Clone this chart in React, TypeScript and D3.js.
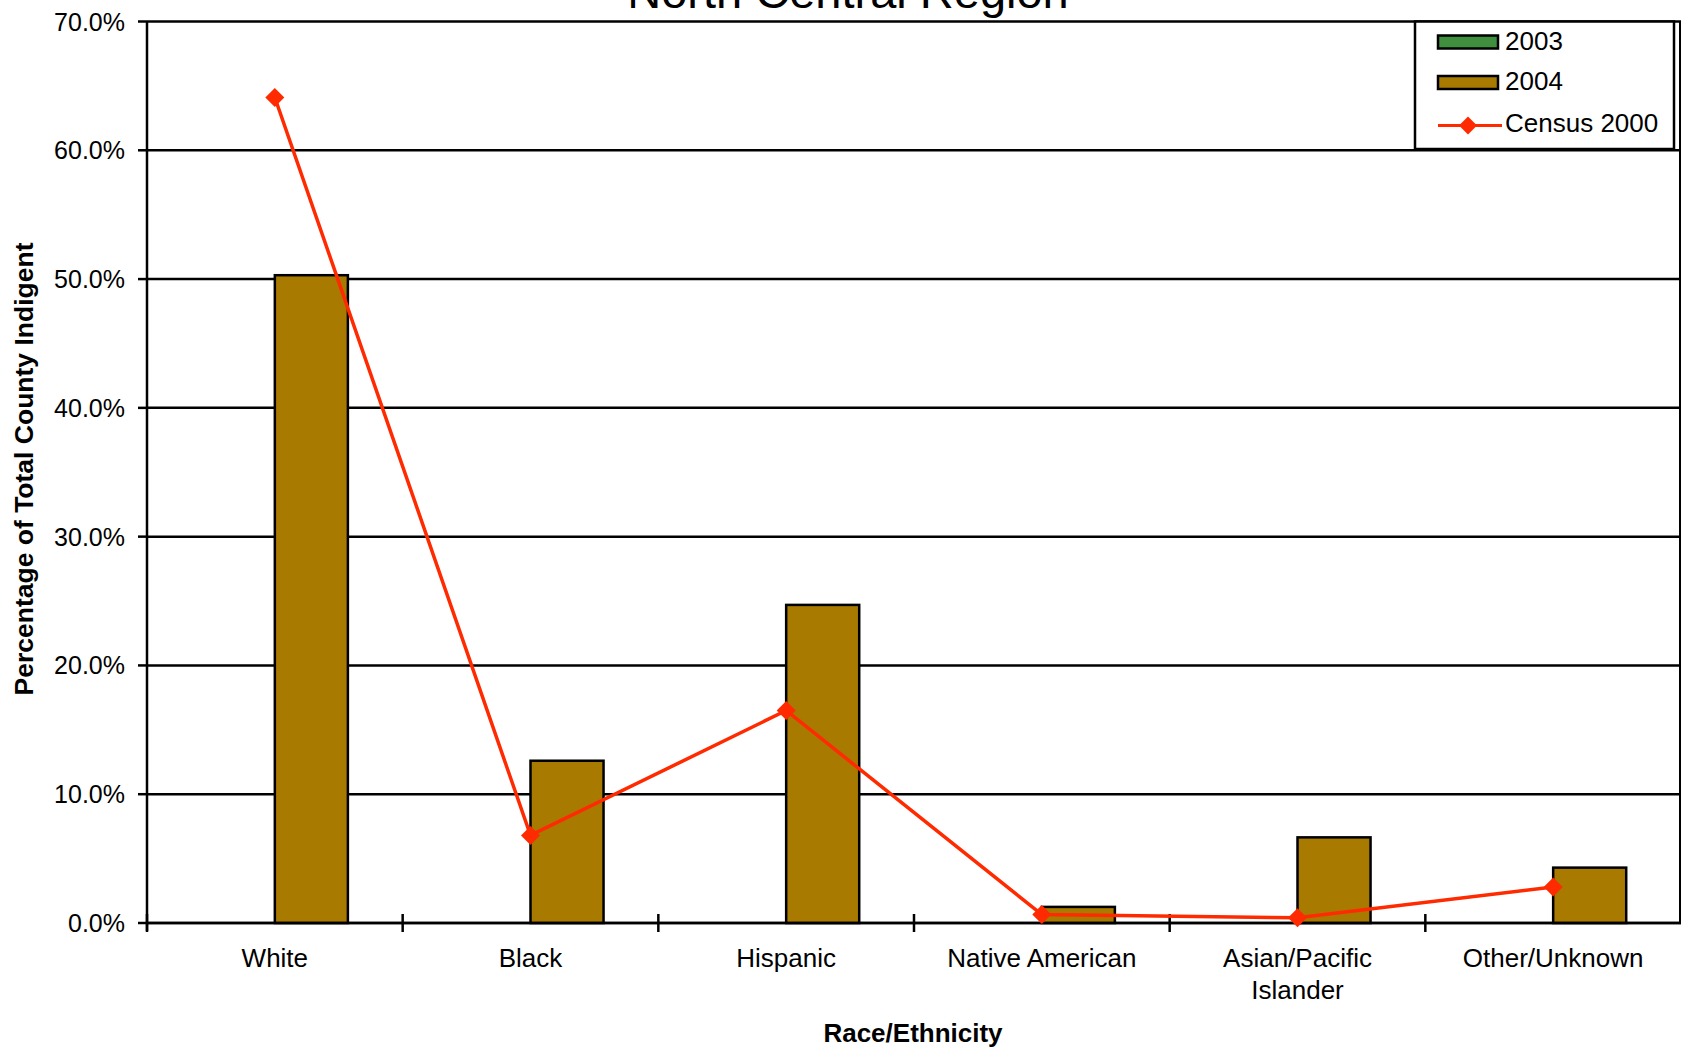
import React from "react";
import * as d3 from "d3";

const categories = ["White", "Black", "Hispanic", "Native American", "Asian/Pacific Islander", "Other/Unknown"];
const categoryLines = [["White"], ["Black"], ["Hispanic"], ["Native American"], ["Asian/Pacific", "Islander"], ["Other/Unknown"]];
const series2003: (number | null)[] = [null, null, null, null, null, null];
const series2004 = [0.503, 0.126, 0.247, 0.0125, 0.0665, 0.043];
const census2000 = [0.641, 0.068, 0.165, 0.0066, 0.004, 0.028];
const yTicks = [0, 0.1, 0.2, 0.3, 0.4, 0.5, 0.6, 0.7];
const legendItems = ["2003", "2004", "Census 2000"];

const W = 1681;
const H = 1049;
const left = 147;
const right = 1681;
const top = 21.5;
const bottom = 923;
const FONT = "'Liberation Sans', Arial, sans-serif";
const C2003 = "#3F8F3F";
const C2004 = "#A87A00";
const CRED = "#FF2A00";

export default function App() {
  const x = d3.scaleBand<string>().domain(categories).range([left, right]).paddingInner(0).paddingOuter(0);
  const y = d3.scaleLinear().domain([0, 0.7]).range([bottom, top]);
  const bw = x.bandwidth() / 3.5;
  const center = (c: string) => (x(c) as number) + x.bandwidth() / 2;
  const line = d3
    .line<number>()
    .x((_, i) => center(categories[i]))
    .y((d) => y(d));
  const diamond = (cx: number, cy: number, r = 9.5) =>
    `M${cx},${cy - r}L${cx + r},${cy}L${cx},${cy + r}L${cx - r},${cy}Z`;
  const fmt = d3.format(".1%");

  return (
    <svg width={W} height={H} style={{ position: "absolute", left: 0, top: 0, background: "#fff" }} fontFamily={FONT}>
      <rect x={0} y={0} width={W} height={H} fill="#fff" />
      {/* title (cut off at top, as in the reference) */}
      <text x={848} y={8} textAnchor="middle" fontSize={47} fill="#000">North Central Region</text>
      {/* gridlines */}
      {yTicks.map((t) => (
        <line key={t} x1={left} x2={right} y1={y(t)} y2={y(t)} stroke="#000" strokeWidth={2.5} />
      ))}
      {/* plot right border */}
      <line x1={right - 1} x2={right - 1} y1={top} y2={bottom} stroke="#000" strokeWidth={2} />
      {/* bars */}
      {categories.map((c, i) => (
        <g key={c}>
          {series2003[i] != null && (
            <rect x={center(c) - bw} y={y(series2003[i] as number)} width={bw} height={bottom - y(series2003[i] as number)} fill={C2003} stroke="#000" strokeWidth={2.5} />
          )}
          <rect x={center(c)} y={y(series2004[i])} width={bw} height={bottom - y(series2004[i])} fill={C2004} stroke="#000" strokeWidth={2.5} />
        </g>
      ))}
      {/* axes */}
      <line x1={left} x2={left} y1={top} y2={bottom + 8} stroke="#000" strokeWidth={2.5} />
      <line x1={left} x2={right} y1={bottom} y2={bottom} stroke="#000" strokeWidth={2.5} />
      {yTicks.map((t) => (
        <g key={"yt" + t}>
          <line x1={left - 9} x2={left} y1={y(t)} y2={y(t)} stroke="#000" strokeWidth={2.5} />
          <text x={125} y={y(t) + 9} textAnchor="end" fontSize={25} fill="#000">{fmt(t)}</text>
        </g>
      ))}
      {categories.map((c, i) => (
        <line key={"xt" + i} x1={(x(c) as number)} x2={(x(c) as number)} y1={bottom - 9} y2={bottom + 9} stroke="#000" strokeWidth={2.5} />
      ))}
      {categories.map((c, i) => (
        <text key={"xl" + i} x={center(c)} y={967} textAnchor="middle" fontSize={26} fill="#000">
          {categoryLines[i].map((ln, j) => (
            <tspan key={j} x={center(c)} dy={j === 0 ? 0 : 32}>{ln}</tspan>
          ))}
        </text>
      ))}
      {/* census line */}
      <path d={line(census2000) as string} fill="none" stroke={CRED} strokeWidth={3.5} />
      {census2000.map((v, i) => (
        <path key={"d" + i} d={diamond(center(categories[i]), y(v))} fill={CRED} />
      ))}
      {/* axis titles */}
      <text x={913} y={1042} textAnchor="middle" fontSize={26} fontWeight="bold" fill="#000">Race/Ethnicity</text>
      <text transform={`translate(33,469) rotate(-90)`} textAnchor="middle" fontSize={26.5} fontWeight="bold" fill="#000">Percentage of Total County Indigent</text>
      {/* legend */}
      <rect x={1415} y={21.5} width={259} height={127.5} fill="#fff" stroke="#000" strokeWidth={2.5} />
      <line x1={1680} x2={1680} y1={21.5} y2={149} stroke="#000" strokeWidth={1} />
      <rect x={1438} y={35.5} width={60} height={13} fill={C2003} stroke="#000" strokeWidth={2.5} />
      <rect x={1438} y={76} width={60} height={13} fill={C2004} stroke="#000" strokeWidth={2.5} />
      <line x1={1438} x2={1502} y1={125.5} y2={125.5} stroke={CRED} strokeWidth={3} />
      <path d={diamond(1468, 125.5, 9)} fill={CRED} />
      <text x={1505} y={50} fontSize={26} fill="#000">{legendItems[0]}</text>
      <text x={1505} y={90} fontSize={26} fill="#000">{legendItems[1]}</text>
      <text x={1505} y={132} fontSize={26} fill="#000">{legendItems[2]}</text>
    </svg>
  );
}
